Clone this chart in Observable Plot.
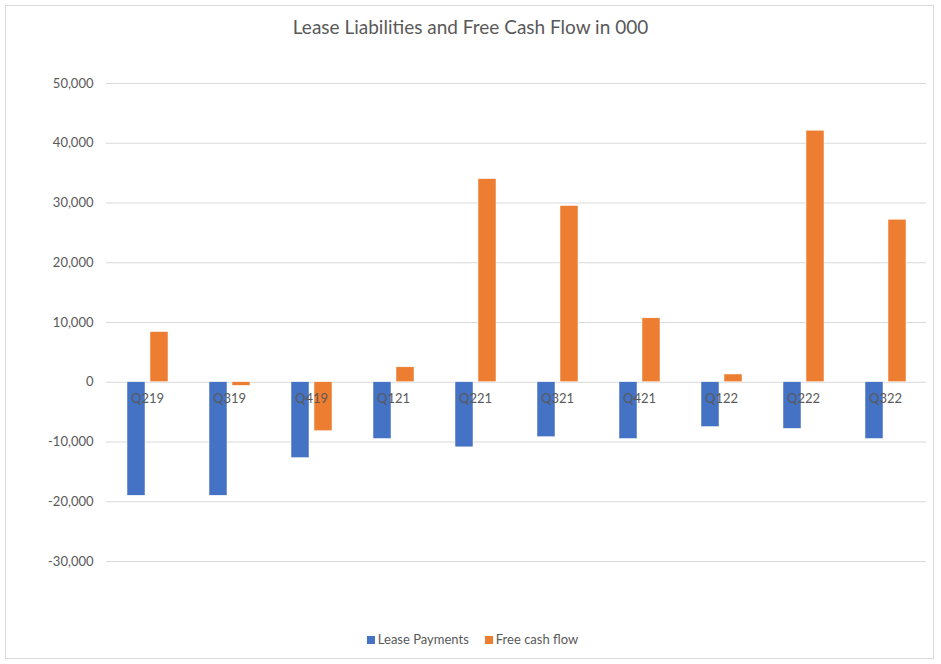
<!DOCTYPE html>
<html>
<head>
<meta charset="utf-8">
<script src="https://cdn.jsdelivr.net/npm/d3@7"></script>
<script src="https://cdn.jsdelivr.net/npm/@observablehq/plot@0.6"></script>
<style>
  html, body { margin: 0; padding: 0; background: #fff; }
  #wrap { position: relative; width: 941px; height: 664px; font-family: Lato, "Open Sans", sans-serif; }
  #frame { position: absolute; left: 5px; top: 5px; width: 929px; height: 654px; border: 1px solid #d9d9d9; box-sizing: border-box; }
  #title { position: absolute; left: 0; width: 941px; top: 15px; text-align: center; font-size: 19px; color: #595959; }
  #chart { position: absolute; left: 0; top: 0; }
  #legend { position: absolute; top: 631px; left: 2px; width: 941px; text-align: center; font-size: 13px; color: #595959; }
  .li { display: inline-block; margin: 0 8px; }
  .sw { display: inline-block; width: 8px; height: 8px; margin-right: 3px; vertical-align: 0px; }
</style>
</head>
<body>
<div id="wrap">
  <div id="frame"></div>
  <div id="title">Lease Liabilities and Free Cash Flow in 000</div>
  <div id="chart"></div>
  <div id="legend"></div>
</div>
<script>
const quarters = ["Q219","Q319","Q419","Q121","Q221","Q321","Q421","Q122","Q222","Q322"];
const seriesNames = ["Lease Payments","Free cash flow"];
const leasePayments = [-19000,-19000,-12700,-9500,-10900,-9200,-9500,-7500,-7800,-9500];
const freeCashFlow = [8400,-600,-8200,2500,34000,29500,10700,1300,42100,27200];
const yTicks = [-30000,-20000,-10000,0,10000,20000,30000,40000,50000];
const colors = ["#4472C4","#ED7D31"];

const data = [];
quarters.forEach((q,i) => {
  data.push({quarter:q, series:seriesNames[0], value:leasePayments[i]});
  data.push({quarter:q, series:seriesNames[1], value:freeCashFlow[i]});
});

const fmt = d => (d < 0 ? "-" : "") + d3.format(",")(Math.abs(d));

const chart = Plot.plot({
  width: 941,
  height: 664,
  marginTop: 83,
  marginBottom: 103,
  marginLeft: 106,
  marginRight: 15,
  style: {fontFamily: "Lato, 'Open Sans', sans-serif", fontSize: "13px", color: "#595959", background: "transparent"},
  fx: {domain: quarters, padding: 0, axis: null, label: null},
  x: {domain: seriesNames, paddingInner: 0.22, paddingOuter: 0.89, axis: null, label: null},
  y: {domain: [-30000, 50000], ticks: yTicks, grid: false, label: null},
  color: {domain: seriesNames, range: colors},
  marks: [
    Plot.ruleY(yTicks, {y: d => d, stroke: "#d9d9d9", strokeWidth: 1}),
    Plot.axisY({ticks: yTicks, tickSize: 0, tickPadding: 13, tickFormat: fmt, fill: "#595959", fontSize: 13, label: null}),
    Plot.barY(data, {fx: "quarter", x: "series", y: "value", fill: "series", stroke: "white", strokeWidth: 0.5}),
    Plot.text(quarters, {fx: d => d, y: () => 0, text: d => d, dy: 17, fill: "#595959", fontSize: 13})
  ]
});
document.getElementById("chart").appendChild(chart);

const legend = document.getElementById("legend");
seriesNames.forEach((s,i) => {
  const span = document.createElement("span");
  span.className = "li";
  span.innerHTML = `<span class="sw" style="background:${colors[i]}"></span>${s}`;
  legend.appendChild(span);
});
</script>
</body>
</html>
